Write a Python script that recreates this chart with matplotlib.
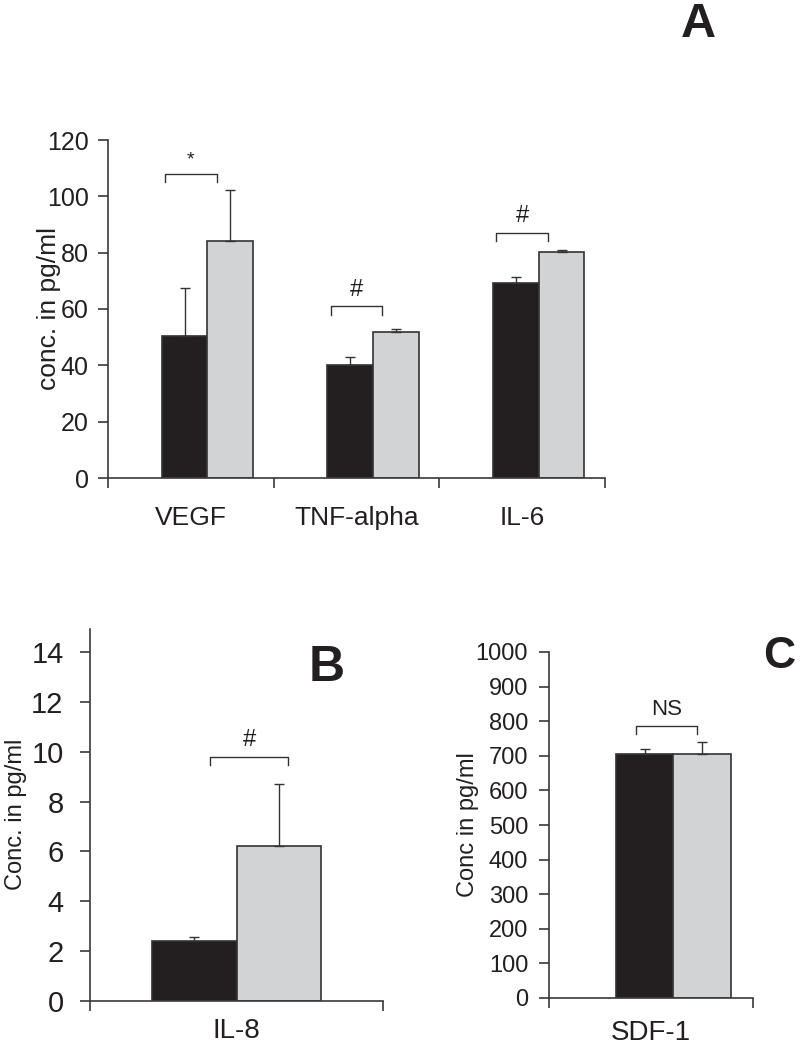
import matplotlib
matplotlib.use('Agg')
import matplotlib.pyplot as plt
import numpy as np

plt.rcParams['font.family'] = ['Liberation Sans', 'DejaVu Sans']

# panel A
cyto_a = ['VEGF', 'TNF-alpha', 'IL-6']
dark_a = [50.4, 40.1, 69.3]
dark_a_err = [17.0, 2.9, 2.1]
light_a = [84.1, 51.8, 80.2]
light_a_err = [18.1, 1.1, 0.8]
sig_a = ['*', '#', '#']
sig_a_y = [108, 61, 87]

# panel B
cyto_b = ['IL-8']
dark_b = [2.4]
dark_b_err = [0.15]
light_b = [6.2]
light_b_err = [2.5]
sig_b = ['#']
sig_b_y = [9.8]

# panel C
cyto_c = ['SDF-1']
dark_c = [705]
dark_c_err = [15]
light_c = [705]
light_c_err = [35]
sig_c = ['NS']
sig_c_y = [786]

DARK = '#231f20'
LIGHT = '#d1d3d4'
EDGE = '#333333'
AX = '#3a3a3a'
TXT = '#231f20'

fig = plt.figure(figsize=(8, 10.5), dpi=100)
W, H = 800, 1050


def px_axes(l, r, b, t):
    return fig.add_axes([l / W, 1 - b / H, (r - l) / W, (b - t) / H])


def draw_panel(ax, cats, dark, dark_err, light, light_err, centers, width,
               ylim, yticks, ylabel, tick_fs, label_fs, cat_fs, ylabel_x,
               xlim, edge_ticks, cat_pos, cat_pad=18, ypad=8):
    centers = np.asarray(centers, dtype=float)
    ekw = dict(ecolor=EDGE, elinewidth=1.0, capsize=3.5, capthick=1.0)
    ax.bar(centers - width / 2, dark, width, color=DARK, edgecolor=EDGE,
           linewidth=1.2, yerr=[np.zeros(len(dark)), dark_err],
           error_kw=ekw, zorder=2)
    ax.bar(centers + width / 2, light, width, color=LIGHT, edgecolor=EDGE,
           linewidth=1.2, yerr=[np.zeros(len(light)), light_err],
           error_kw=ekw, zorder=2)
    ax.set_xlim(*xlim)
    ax.set_ylim(*ylim)
    ax.set_yticks(yticks)
    ax.set_xticks(edge_ticks)
    ax.set_xticklabels([])
    ax.set_xticks(cat_pos, minor=True)
    ax.set_xticklabels(cats, minor=True, fontsize=cat_fs, color=TXT)
    ax.tick_params(axis='x', which='minor', length=0, pad=cat_pad)
    ax.tick_params(axis='x', which='major', length=7, width=1.2, color=AX,
                   direction='out')
    ax.tick_params(axis='y', length=7, width=1.2, color=AX, pad=ypad,
                   labelsize=tick_fs, labelcolor=TXT)
    for s in ['top', 'right']:
        ax.spines[s].set_visible(False)
    for s in ['left', 'bottom']:
        ax.spines[s].set_color(AX)
        ax.spines[s].set_linewidth(1.2)
    ax.set_ylabel(ylabel, fontsize=label_fs, color=TXT)
    ax.yaxis.set_label_coords(ylabel_x, 0.5)


def bracket(ax, x0, x1, y, drop, text, fs):
    ax.plot([x0, x0, x1, x1], [y - drop, y, y, y - drop], color=EDGE,
            lw=1.0, zorder=3)
    ax.annotate(text, ((x0 + x1) / 2, y), xytext=(0, 4),
                textcoords='offset points', ha='center', va='bottom',
                fontsize=fs, color=TXT)


# ---- A ----
axA = px_axes(108, 605, 478, 140)
xa = np.arange(len(cyto_a))
draw_panel(axA, cyto_a, dark_a, dark_a_err, light_a, light_a_err,
           xa + 0.6, 0.276, (0, 120), np.arange(0, 121, 20),
           'conc. in pg/ml', 18, 19, 19, -0.095, (0, 3), [0, 1, 2, 3], xa + 0.5,
           cat_pad=20, ypad=7)
for i, (t, y) in enumerate(zip(sig_a, sig_a_y)):
    bracket(axA, xa[i] + 0.5 - 0.155, xa[i] + 0.5 + 0.155, y, 3, t,
            14 if t == '*' else 17)

# ---- B ----
axB = px_axes(90, 383, 1001, 627)
draw_panel(axB, cyto_b, dark_b, dark_b_err, light_b, light_b_err,
           [0.5], 0.287, (0, 15), np.arange(0, 15, 2),
           'Conc. in pg/ml', 21, 17, 20, -0.215, (0, 1), [0, 1], [0.5],
           cat_pad=12, ypad=12)
axB.spines['left'].set_bounds(0, 14.9)
bracket(axB, 0.41, 0.676, sig_b_y[0], 0.35, sig_b[0], 17)

# ---- C ----
axC = px_axes(549, 753, 998, 652)
draw_panel(axC, cyto_c, dark_c, dark_c_err, light_c, light_c_err,
           [0.61], 0.28, (0, 1000), np.arange(0, 1001, 100),
           'Conc in pg/ml', 17, 17, 20, -0.345, (0, 1), [0, 1], [0.5],
           cat_pad=16, ypad=8)
bracket(axC, 0.426, 0.725, sig_c_y[0], 23, sig_c[0], 16)

# panel letters
fig.text(698 / W, 1 - 2 / H, 'A', fontsize=35, fontweight='bold',
         ha='center', va='top', color=TXT)
fig.text(327 / W, 1 - 668 / H, 'B', fontsize=36, fontweight='bold',
         ha='center', va='center', color=TXT)
fig.text(763 / W, 1 - 656 / H, 'C', fontsize=32, fontweight='bold',
         ha='left', va='center', color=TXT)

fig.savefig('out.png', dpi=100)
